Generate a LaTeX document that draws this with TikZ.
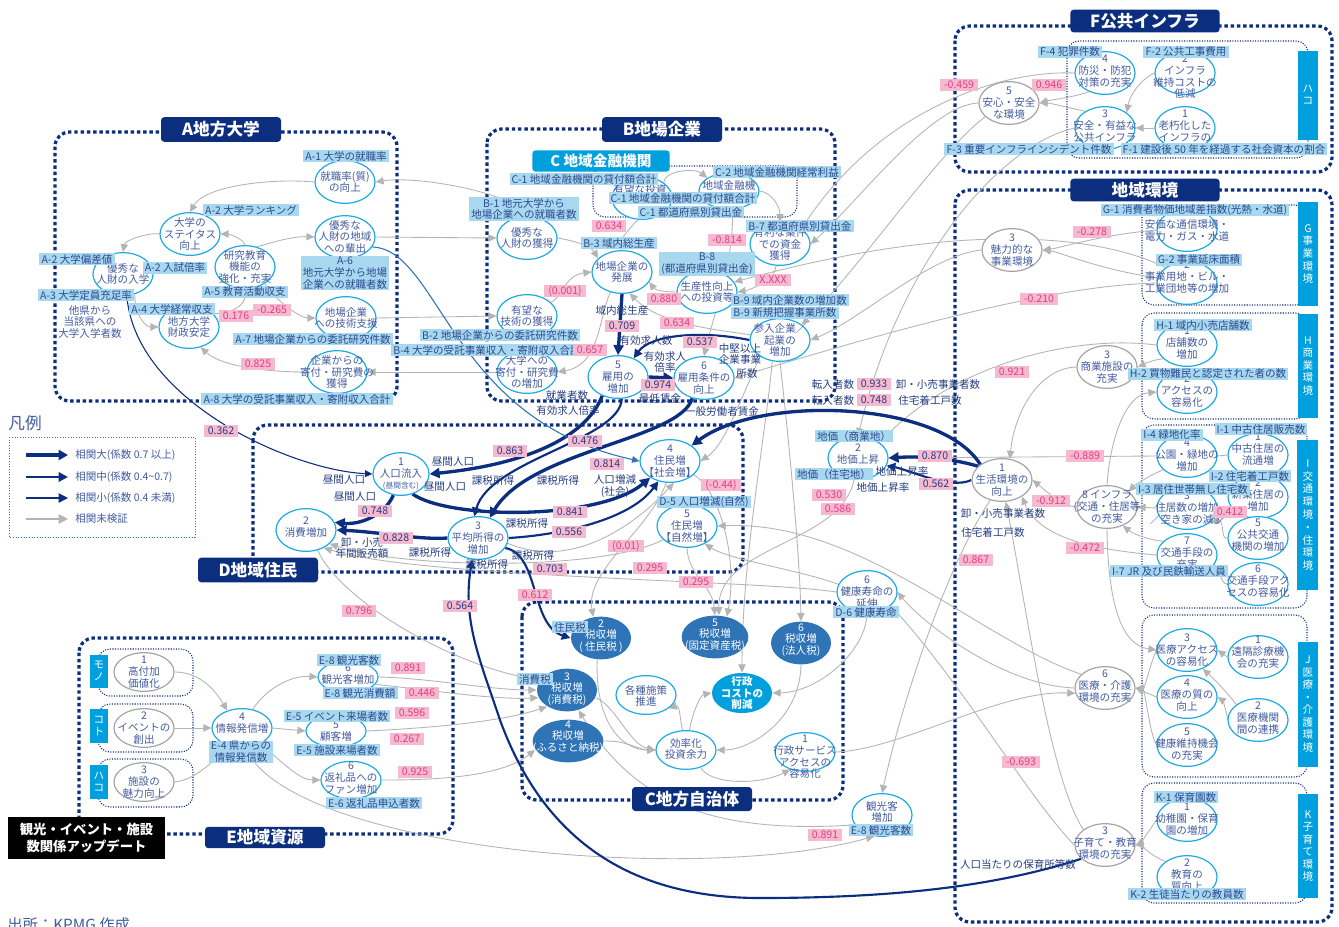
\documentclass[tikz,border=0pt]{standalone}
\usepackage{fontspec}
\setmainfont{Noto Sans CJK JP}
\usetikzlibrary{shapes.geometric,arrows.meta}
\definecolor{navy}{RGB}{12,46,126}
\definecolor{navyT}{RGB}{40,62,128}
\definecolor{cyanT}{RGB}{0,160,222}
\definecolor{lblue}{RGB}{168,215,240}
\definecolor{labtxt}{RGB}{44,74,140}
\definecolor{pinkF}{RGB}{245,185,208}
\definecolor{pinkT}{RGB}{230,62,132}
\definecolor{ecyan}{RGB}{30,170,228}
\definecolor{egray}{RGB}{165,165,165}
\definecolor{etext}{RGB}{66,92,160}
\definecolor{grayL}{RGB}{180,180,180}
\definecolor{bfill}{RGB}{46,116,182}
\definecolor{dtext}{RGB}{36,62,130}
\definecolor{legb}{RGB}{46,117,182}
\pgfdeclarelayer{bgw}
\pgfdeclarelayer{frm}
\pgfdeclarelayer{lns}
\pgfsetlayers{bgw,frm,lns,main}
\newcommand\fs{\fontsize{7.9}{8.8}\selectfont}
\newcommand\MyEN[4][en]{\node[#1] (#2) at (#3) {}; \node[etx] at (#3) {#4};}
\newcommand\MyNE[6]{\node[#1] (#2) at (#3) {}; \node[#4] at (#5) {#6};}
\tikzset{
 en/.style={ellipse, draw=ecyan, line width=0.9pt, fill=white, minimum width=45pt, minimum height=32pt, inner sep=0pt},
 eg/.style={en, draw=egray},
 eb/.style={en, draw=none, fill=bfill},
 ec/.style={en, draw=none, fill=cyanT},
 etx/.style={align=center, text=etext, font=\fs, inner sep=0pt},
 wtx/.style={align=center, text=white, font=\fs, inner sep=0pt},
 lb/.style={fill=lblue, text=labtxt, font=\fs, inner xsep=1.6pt, inner ysep=0.7pt, align=center},
 pk/.style={fill=pinkF, text=pinkT, font=\fs, inner xsep=3pt, inner ysep=0.5pt, minimum height=9.5pt},
 pkn/.style={pk, text=navyT},
 dl/.style={text=dtext, font=\fs, inner sep=0pt, align=center},
 ttl/.style={fill=navy, text=white, font=\fontsize{12.5}{14}\selectfont\bfseries, rounded corners=2.5pt, minimum width=90pt, minimum height=18.5pt, inner sep=0pt},
 frame/.style={draw=navy, line width=2.4pt, dash pattern=on 2.6pt off 2.1pt, rounded corners=11pt},
 sub/.style={draw=navy, line width=0.8pt, dash pattern=on 0.8pt off 1.1pt, rounded corners=9pt},
 ga/.style={draw=grayL, line width=0.65pt, -{Triangle[length=6pt,width=5.5pt]}},
 gln/.style={draw=grayL, line width=0.65pt},
 big/.style={draw=navy, line width=2.5pt, -{Triangle[length=7.5pt,width=7.5pt]}},
 mid/.style={draw=navy, line width=1.6pt, -{Triangle[length=6.5pt,width=6.5pt]}},
 sm/.style={draw=navy, line width=0.8pt, -{Triangle[length=5.5pt,width=5pt]}},
}
\begin{document}
\begin{tikzpicture}[x=0.75pt,y=-0.75pt]
\useasboundingbox (0,0) rectangle (1339,926);
\begin{pgfonlayer}{bgw}
\fill[white] (0,0) rectangle (1339,926);
\end{pgfonlayer}

% ---------------- frames
\begin{pgfonlayer}{frm}
\draw[frame] (55,132) rectangle (397,401);
\draw[frame] (487,129) rectangle (835,401);
\draw[frame] (253,425) rectangle (743,572);
\draw[frame] (522,602) rectangle (843,800);
\draw[frame] (79,638) rectangle (453,834);
\draw[frame] (955,26) rectangle (1332,172);
\draw[frame] (955,190) rectangle (1332,922);
\draw[sub] (593,166) rectangle (797,217);
\draw[sub] (1067,41) rectangle (1308,158);
\draw[sub] (1142,205) rectangle (1307,305);
\draw[sub] (1142,313) rectangle (1307,419);
\draw[sub] (1142,425) rectangle (1307,608);
\draw[sub] (1142,615) rectangle (1307,777);
\draw[sub] (1142,783) rectangle (1307,903);
\draw[sub] (98,649) rectangle (193,696);
\draw[sub] (98,704) rectangle (193,752);
\draw[sub] (98,759) rectangle (193,807);
\draw[draw=legb, line width=0.7pt, dash pattern=on 0.8pt off 1.2pt] (9,437) rectangle (195,537);
\end{pgfonlayer}

% ---------------- A nodes
\MyEN{aJob}{345,182}{就職率(質)\\の向上}
\MyEN{aStat}{190,234}{大学の\\ステイタス\\向上}
\MyEN{aOut}{345,237}{優秀な\\人財の地域\\への輩出}
\MyEN{aRes}{245,267}{研究教育\\機能の\\強化・充実}
\MyEN{aEnt}{123,274}{優秀な\\人財の入学}
\MyEN{aFin}{189,327}{地方大学\\財政安定}
\MyEN{aTech}{346,318}{地場企業\\への技術支援}
\MyEN{aDon}{337,372}{企業からの\\寄付・研究費の\\獲得}
\node[etx, text=etext] at (90,322) {他県から\\当該県への\\大学入学者数};
% ---------------- B nodes
\MyEN{bTal}{527,238}{優秀な\\人財の獲得}
\MyEN{bDev}{622,272}{地場企業の\\発展}
\MyEN{bTec}{527,316}{有望な\\技術の獲得}
\MyEN{bDon}{527,372}{大学への\\寄付・研究費\\の増加}
\MyEN{bEmp}{618,377}{5\\雇用の\\増加}
\MyEN{bCond}{704,378}{6\\雇用条件の\\向上}
\MyEN{bProd}{707,292}{生産性向上\\への投資等}
\MyEN{bDeal}{780,244}{有利な案件\\での資金\\獲得}
\MyEN{bNew}{780,340}{参入企業／\\起業の\\増加}
\MyNE{en}{cInv}{642,198}{etx}{640,190}{有望な投資}
\MyNE{en,minimum height=27pt}{cFin}{729,191}{etx}{729,185}{地域金融機}
% ---------------- D nodes
\MyEN[en,minimum width=42pt]{d1}{401,474}{1\\人口流入\\{\fontsize{5.8}{6.6}\selectfont(昼間含む)}}
\MyNE{en}{d2}{306,530}{etx}{306,527}{2\\消費増加}
\MyEN{d3}{478,538}{3\\平均所得の\\増加}
\MyEN{d4}{670,461}{4\\住民増\\【社会増】}
\MyEN{d5}{687,526}{5\\住民増\\【自然増】}
\MyEN{d6}{867,592}{6\\健康寿命の\\延伸}
\MyNE{en}{dLand}{858,458}{etx}{858,454}{2\\地価上昇}
% ---------------- right nodes
\MyEN[eg]{live}{1002,480}{1\\生活環境の\\向上}
\MyEN[eg]{infra}{1107,507}{8 インフラ\\(交通・住居等\\の充実}
\MyEN[eg]{shop}{1107,367}{3\\商業施設の\\充実}
\MyEN[eg]{biz}{1012,250}{3\\魅力的な\\事業環境}
\MyEN[eg]{safe}{1009,103}{5\\安心・安全\\な環境}
\MyNE{en}{f4}{1105,73}{etx}{1105,71}{4\\防災・防犯\\対策の充実}
\MyNE{en}{f2}{1185,73}{etx}{1185,77}{2\\インフラ\\維持コストの\\低減}
\MyNE{en}{f3}{1105,128}{etx}{1105,126}{3\\安全・有益な\\公共インフラ}
\MyNE{en}{f1}{1185,128}{etx}{1185,126}{1\\老朽化した\\インフラの}
\MyNE{en}{g1}{1187,230}{etx}{1187,225}{1\\安価な通信環境・\\電力・ガス・水道}
\MyNE{en}{g2}{1187,283}{etx}{1187,277}{2\\事業用地・ビル・\\工業団地等の増加}
\MyNE{en}{h1}{1187,345}{etx}{1187,343}{1\\店舗数の\\増加}
\MyNE{en}{h2}{1187,392}{etx}{1187,391}{2\\アクセスの\\容易化}
\MyNE{en}{i4}{1187,456}{etx}{1187,455}{4\\公園・緑地の\\増加}
\MyNE{en}{i1}{1258,455}{etx}{1258,449}{1\\中古住居の\\流通増}
\MyNE{en}{i2}{1258,497}{etx}{1258,495}{2\\新築住居の\\増加}
\MyNE{en}{i3}{1187,508}{etx}{1187,508}{3\\住居数の増加\\／空き家の減少}
\MyNE{en}{i5}{1258,538}{etx}{1258,535}{5\\公共交通\\機関の増加}
\MyNE{en}{i7}{1187,555}{etx}{1187,553}{7\\交通手段の\\充実}
\MyNE{en}{i6}{1258,584}{etx}{1258,581}{6\\交通手段アク\\セスの容易化}
\MyEN{j3}{1187,650}{3\\医療アクセス\\の容易化}
\MyNE{en}{j1}{1258,657}{etx}{1258,652}{1\\遠隔診療機\\会の充実}
\MyNE{en}{j4}{1187,697}{etx}{1187,695}{4\\医療の質の\\向上}
\MyNE{en}{j2}{1258,720}{etx}{1258,718}{2\\医療機関\\間の連携}
\MyNE{en}{j5}{1187,745}{etx}{1187,744}{5\\健康維持機会\\の充実}
\MyNE{eg}{med}{1105,688}{etx}{1105,686}{6\\医療・介護\\環境の充実}
\MyNE{en}{k1}{1187,820}{etx}{1187,819}{1\\幼稚園・保育\\園の増加}
\MyNE{en}{k2}{1187,877}{etx}{1187,875}{2\\教育の\\質向上}
\MyNE{eg}{kid}{1105,845}{etx}{1105,843}{3\\子育て・教育\\環境の充実}
% ---------------- C local government
\MyNE{eb}{t2}{601,638}{wtx}{601,636}{2\\税収増\\(\ 住民税\ )}
\MyNE{eb,minimum width=50pt}{t5}{715,637}{wtx}{715,635}{5\\税収増\\(固定資産税)}
\MyNE{eb}{t6}{801,643}{wtx}{801,640}{6\\税収増\\(法人税)}
\MyNE{eb}{t3}{567,690}{wtx}{567,689}{3\\税収増\\(消費税)}
\MyNE{eb,minimum width=53pt}{t4}{568,741}{wtx}{568,737}{4\\税収増\\(ふるさと納税)}
\MyNE{en,minimum height=29pt}{pol}{646,695}{etx}{646,696}{各種施策\\推進}
\MyNE{ec,minimum height=30pt}{cost}{742,693}{wtx,font=\fs\bfseries}{742,693}{行政\\コストの\\削減}
\MyNE{en,minimum height=29pt}{eff}{686,750}{etx}{686,749}{効率化\\投資余力}
\MyNE{en,minimum height=29pt}{svc}{805,752}{etx}{805,757}{1\\行政サービス\\アクセスの\\容易化}
\MyNE{en}{tour}{882,815}{etx}{882,812}{観光客\\増加}
% ---------------- E nodes
\MyEN[eg,minimum height=29pt]{e1}{144,672}{1\\高付加\\価値化}
\MyEN[eg,minimum height=29pt]{e2}{144,728}{2\\イベントの\\創出}
\MyEN[eg,minimum height=29pt]{e3}{144,782}{3\\施設の\\魅力向上}
\MyNE{en,minimum height=29pt}{e4}{242,728}{etx}{242,723}{4\\情報発信増}
\MyNE{en,minimum height=24pt}{e8}{348,677}{etx}{348,674}{6\\観光客増加}
\MyNE{en,minimum height=24pt}{e5}{336,731}{etx}{336,731}{5\\顧客増}
\MyNE{en,minimum height=28pt}{e6}{351,780}{etx}{351,778}{6\\返礼品への\\ファン増加}

% ---------------- connectors
\begin{pgfonlayer}{lns}
% A
\draw[ga] (aJob.west) .. controls (270,178) and (205,186) .. (aStat.north);
\draw[ga] (aRes.north) .. controls (243,238) and (228,234) .. (aStat.east);
\draw[ga] (aStat.west) .. controls (150,232) and (125,240) .. (aEnt.north);
\draw[ga] (aRes.60) .. controls (265,245) and (290,236) .. (aOut.west);
\draw[ga] (aEnt.-60) .. controls (135,315) and (145,327) .. (aFin.west);
\draw[ga] (aFin.30) .. controls (230,315) and (245,305) .. (aRes.south);
\draw[ga] (aRes.-40) .. controls (275,300) and (300,318) .. (aTech.west);
\draw[ga] (aDon.west) .. controls (260,372) and (220,365) .. (aFin.-60);
\draw[ga] (bTal.north) .. controls (520,195) and (420,175) .. (aJob.east);
\draw[ga] (aOut.east) -- (bTal.west);
\draw[ga] (aTech.east) -- (bTec.west);
\draw[ga] (bDon.west) -- (aDon.east);
% B
\draw[ga] (bTal.east) .. controls (570,240) and (590,245) .. (bDev.150);
\draw[ga] (bTec.30) .. controls (560,300) and (565,275) .. (bDev.west);
\draw[ga] (bDev.-120) .. controls (598,320) and (600,365) .. (bDon.east);
\draw[ga] (cInv.-100) .. controls (632,225) and (620,240) .. (bDev.north);
\draw[ga] (bProd.west) .. controls (665,292) and (655,290) .. (bDev.-20);
\draw[ga] (bNew.170) .. controls (720,330) and (660,325) .. (bDev.-70);
\draw[ga] (bDeal.-100) .. controls (775,280) and (750,290) .. (bProd.east);
\draw[ga] (cFin.east) .. controls (770,192) and (780,205) .. (bDeal.north);
\draw[ga] (cInv.north east) .. controls (665,170) and (695,168) .. (cFin.north west);
\draw[ga] (cFin.-80) .. controls (735,260) and (712,320) .. (bCond.north);
% right to B
\draw[ga] (f4.west) .. controls (1000,70) and (880,110) .. (bDeal.north east);
\draw[ga] (safe.west) .. controls (930,105) and (860,200) .. (bDeal.east);
\draw[ga] (safe.-150) .. controls (940,150) and (850,280) .. (bNew.north east);
\draw[ga] (biz.west) .. controls (930,255) and (860,320) .. (bNew.east);
\draw[ga] (g2.north west) .. controls (1110,240) and (980,215) .. (bProd.20);
\draw[ga] (g2.west) .. controls (1090,285) and (990,300) .. (bCond.east);
\draw[ga] (g1.west) .. controls (1100,235) and (1060,248) .. (biz.east);
\draw[ga] (g2.170) .. controls (1100,270) and (1060,252) .. (biz.east);
\draw[ga] (f3.west) .. controls (1000,145) and (900,260) .. (dLand.north);
% F
\draw[ga] (f4.-130) .. controls (1070,98) and (1050,100) .. (safe.east);
\draw[ga] (f3.140) .. controls (1070,108) and (1050,103) .. (safe.east);
\draw[ga] (f2.west) .. controls (1140,80) and (1130,95) .. (f3.north east);
\draw[ga] (f1.west) -- (f3.east);
% right region
\draw[ga] (h1.-150) .. controls (1150,360) and (1140,366) .. (shop.east);
\draw[ga] (shop.west) .. controls (1040,368) and (1015,410) .. (live.70);
\draw[ga] (h1.west) .. controls (1080,335) and (960,360) .. (dLand.north east);
\draw[ga] (infra.west) .. controls (1060,505) and (1045,490) .. (live.east);
\draw[ga] (i4.west) -- (dLand.east);
\draw[ga] (i4.-150) .. controls (1150,475) and (1135,485) .. (infra.north east);
\draw[gln] (i1.west) -- (i4.east);
\draw[ga] (i3.west) -- (infra.east);
\draw[ga] (i5.west) .. controls (1220,540) and (1225,520) .. (i3.-30);
\draw[ga] (i7.150) .. controls (1150,540) and (1135,535) .. (infra.-50);
\draw[gln] (i6.west) .. controls (1220,585) and (1220,565) .. (i7.-20);
\draw[ga] (i7.west) .. controls (1100,550) and (1040,540) .. (live.-40);
\draw[ga] (infra.north) .. controls (1110,440) and (1125,395) .. (h2.west);
\draw[ga] (infra.south) .. controls (1108,600) and (1120,645) .. (j3.west);
\draw[ga] (j1.west) -- (j3.east);
\draw[ga] (j2.north west) .. controls (1225,690) and (1215,680) .. (j3.-50);
\draw[ga] (j2.west) .. controls (1228,715) and (1222,700) .. (j4.east);
\draw[ga] (j3.west) .. controls (1150,665) and (1145,688) .. (med.east);
\draw[ga] (j4.west) -- (med.east);
\draw[ga] (j5.west) .. controls (1150,735) and (1145,690) .. (med.east);
\draw[ga] (med.west) .. controls (1000,685) and (920,620) .. (d6.east);
\draw[ga] (med.150) .. controls (980,640) and (860,520) .. (d5.east);
\draw[ga] (k1.west) .. controls (1150,830) and (1140,843) .. (kid.east);
\draw[ga] (k2.north west) .. controls (1150,855) and (1140,845) .. (kid.east);
\draw[ga] (kid.north west) .. controls (1050,780) and (1025,600) .. (live.-80);
\draw[gln] (d6.-30) .. controls (960,680) and (1030,800) .. (kid.west);
\draw[ga] (live.-120) .. controls (950,560) and (905,690) .. (tour.north);
\draw[ga] (svc.east) .. controls (900,750) and (1000,690) .. (med.-170);
% C local
\draw[ga] (d4.-100) .. controls (650,530) and (585,570) .. (t2.110);
\draw[ga] (d5.south) .. controls (688,575) and (712,585) .. (t5.north);
\draw[ga] (d4.-30) .. controls (720,490) and (738,560) .. (t5.60);
\draw[ga] (dLand.-100) .. controls (840,545) and (718,545) .. (t5.80);
\draw[ga] (bNew.south) .. controls (790,450) and (800,560) .. (t6.north);
\draw[ga] (bNew.-110) .. controls (765,440) and (742,560) .. (cost.north);
\draw[ga] (bNew.-140) .. controls (740,400) and (725,445) .. (d4.east);
\draw[ga] (t2.-100) .. controls (595,720) and (620,750) .. (eff.west);
\draw[ga] (t3.-15) .. controls (615,705) and (630,745) .. (eff.west);
\draw[ga] (t4.east) .. controls (625,740) and (640,750) .. (eff.west);
\draw[ga] (t6.south) .. controls (800,720) and (750,750) .. (eff.east);
\draw[ga] (eff.100) .. controls (680,720) and (680,705) .. (pol.-30);
\draw[ga] (eff.80) .. controls (692,715) and (700,695) .. (cost.west);
\draw[ga] (eff.-50) .. controls (710,785) and (760,785) .. (svc.-130);
\draw[ga] (d6.south) .. controls (866,650) and (820,692) .. (cost.east);
\draw[ga] (tour.200) .. controls (700,835) and (630,795) .. (t3.-60);
\draw[ga] (e4.-80) .. controls (290,850) and (700,885) .. (tour.-110);
\draw[ga] (d2.-60) .. controls (340,600) and (450,665) .. (t3.160);
\draw[ga] (e8.east) .. controls (430,678) and (490,690) .. (t3.west);
\draw[ga] (e8.-15) .. controls (430,690) and (495,700) .. (t3.-165);
\draw[ga] (e5.east) .. controls (430,728) and (500,722) .. (t3.-140);
\draw[ga] (e6.east) .. controls (430,780) and (500,778) .. (t4.-165);
% D gray
\draw[ga] (d5.-150) .. controls (600,572) and (400,568) .. (d2.-30);
\draw[ga] (d6.west) .. controls (760,580) and (420,578) .. (d2.-45);
\draw[ga] (d6.165) .. controls (800,570) and (730,560) .. (d5.-45);
\draw[ga] (d3.-10) .. controls (575,572) and (640,520) .. (d4.-80);
% E
\draw[ga] (e1.east) .. controls (200,672) and (215,690) .. (e4.130);
\draw[ga] (e2.east) -- (e4.west);
\draw[ga] (e3.east) .. controls (195,780) and (215,760) .. (e4.-130);
\draw[ga] (e4.60) .. controls (265,690) and (290,675) .. (e8.west);
\draw[ga] (e4.east) -- (e5.west);
\draw[ga] (e4.-40) .. controls (285,765) and (300,780) .. (e6.west);
% navy connectors
\draw[big] (bDev.south) -- (bEmp.north);
\draw[mid] (bNew.west) .. controls (700,330) and (650,335) .. (bEmp.50);
\draw[big] (bEmp.east) -- (bCond.west);
\draw[big] (bEmp.-130) .. controls (585,440) and (520,465) .. (d1.east);
\draw[mid] (bEmp.-80) .. controls (620,440) and (490,460) .. (d3.100);
\draw[big] (bCond.-120) .. controls (680,440) and (530,450) .. (d3.60);
\draw[big] (d1.-60) .. controls (450,520) and (600,520) .. (d4.-140);
\draw[mid] (d3.east) .. controls (560,535) and (630,520) .. (d4.-120);
\draw[big] (d3.west) .. controls (420,540) and (380,532) .. (d2.east);
\draw[big] (d1.-110) .. controls (385,515) and (360,525) .. (d2.15);
\draw[mid] (d3.-20) .. controls (540,555) and (530,625) .. (t2.west);
\draw[mid] (kid.-150) .. controls (1000,885) and (900,898) .. (760,898) .. controls (620,898) and (540,830) .. (500,720) .. controls (480,660) and (462,620) .. (d3.-105);
\draw[big] (live.north west) .. controls (940,400) and (760,395) .. (d4.north east);
\draw[big] (live.150) .. controls (950,458) and (920,456) .. (dLand.east);
\draw[mid] (live.west) .. controls (950,490) and (910,470) .. (dLand.-15);
\draw[sm] (aEnt.-80) .. controls (135,400) and (290,470) .. (d1.west);
\draw[sm, draw=legb] (aOut.-20) .. controls (440,250) and (450,420) .. (d4.west);
\end{pgfonlayer}

% ---------------- labels A
\node[lb] at (346,156) {A-1 大学の就職率};
\node[lb] at (251,210) {A-2 大学ランキング};
\node[lb] at (77,259) {A-2 大学偏差値};
\node[lb] at (175,268) {A-2 入試倍率};
\node[lb] at (86,295) {A-3 大学定員充足率};
\node[lb] at (172,309) {A-4 大学経常収支};
\node[lb] at (245,292) {A-5 教育活動収支};
\node[lb] at (345,273) {A-6\\地元大学から地場\\企業への就職者数};
\node[lb] at (313,339) {A-7 地場企業からの委託研究件数};
\node[lb] at (297,399) {A-8 大学の受託事業収入・寄附収入合計};
\node[pk] at (236,316) {0.176};
\node[pk] at (272,310) {-0.265};
\node[pk] at (258,364) {0.825};
\node[pkn] at (221,431) {0.362};
% labels B / C
\node[lb] at (584,179) {C-1 地域金融機関の貸付額合計};
\node[lb] at (683,198) {C-1 地域金融機関の貸付額合計};
\node[lb] at (691,212) {C-1 都道府県別貸出金};
\node[lb] at (777,172) {C-2 地域金融機関経常利益};
\node[lb] at (800,226) {B-7 都道府県別貸出金};
\node[lb] at (707,264) {B-8\\(都道府県別貸出金)};
\node[lb] at (790,300) {B-9 域内企業数の増加数};
\node[lb] at (785,313) {B-9 新規把握事業所数};
\node[lb] at (524,209) {B-1 地元大学から\\地場企業への就職者数};
\node[lb] at (619,243) {B-3 域内総生産};
\node[lb] at (500,335) {B-2 地場企業からの委託研究件数};
\node[lb] at (487,350) {B-4 大学の受託事業収入・寄附収入合計};
\node[pk] at (609,226) {0.634};
\node[pk] at (565,291) {(0.001)};
\node[pk] at (664,299) {0.880};
\node[pk] at (677,323) {0.634};
\node[pkn] at (622,326) {0.709};
\node[pk] at (727,240) {-0.814};
\node[pk] at (773,280) {X.XXX};
\node[pk] at (590,350) {0.657};
\node[pkn] at (700,342) {0.537};
\node[pkn] at (658,385) {0.974};
\node[pkn] at (874,384) {0.933};
\node[pkn] at (874,400) {0.748};
\node[dl] at (622,310) {域内総生産};
\node[dl] at (646,341) {有効求人数};
\node[dl] at (665,362) {有効求人\\倍率};
\node[dl] at (740,354) {中堅以上\\企業事業};
\node[dl] at (747,373) {所数};
\node[dl] at (567,395) {就業者数};
\node[dl] at (568,411) {有効求人倍率};
\node[dl] at (660,398) {最低賃金};
\node[dl] at (722,412) {一般労働者賃金};
\node[dl] at (833,384) {転入者数};
\node[dl] at (833,400) {転入者数};
\node[dl] at (938,384) {卸・小売事業者数};
\node[dl] at (930,400) {住宅着工戸数};
% labels D
\node[dl] at (453,462) {昼間人口};
\node[dl] at (445,487) {昼間人口};
\node[dl] at (344,480) {昼間人口};
\node[dl] at (355,497) {昼間人口};
\node[dl] at (493,480) {課税所得};
\node[dl] at (558,480) {課税所得};
\node[dl] at (615,486) {人口増減\\(社会)};
\node[dl] at (527,523) {課税所得};
\node[dl] at (362,548) {卸・小売\\年間販売額};
\node[dl] at (430,552) {課税所得};
\node[dl] at (487,564) {課税所得};
\node[dl] at (533,555) {課税所得};
\node[dl] at (902,472) {地価上昇率};
\node[dl] at (883,488) {地価上昇率};
\node[lb] at (854,436) {地価（商業地）};
\node[lb] at (834,474) {地価（住宅地）};
\node[lb] at (704,502) {D-5 人口増減(自然)};
\node[lb] at (866,612) {D-6 健康寿命};
\node[pkn] at (510,451) {0.863};
\node[pkn] at (585,441) {0.476};
\node[pkn] at (607,464) {0.814};
\node[pkn] at (375,511) {0.748};
\node[pkn] at (570,512) {0.841};
\node[pkn] at (396,538) {0.828};
\node[pkn] at (569,532) {0.556};
\node[pk] at (626,546) {(0.01)};
\node[pkn] at (550,569) {0.703};
\node[pk] at (650,568) {0.295};
\node[pk] at (535,595) {0.612};
\node[pkn] at (460,606) {0.564};
\node[pk] at (359,611) {0.796};
\node[pk] at (696,582) {0.295};
\node[pk] at (721,485) {(-0.44)};
\node[pk] at (829,495) {0.530};
\node[pk] at (838,509) {0.586};
\node[pkn] at (935,456) {0.870};
\node[pkn] at (936,484) {0.562};
% labels right
\node[lb] at (1070,52) {F-4 犯罪件数};
\node[lb] at (1186,52) {F-2 公共工事費用};
\node[lb] at (1029,149) {F-3 重要インフラインシデント件数};
\node[lb] at (1224,149) {F-1 建設後 50 年を経過する社会資本の割合};
\node[lb] at (1195,210) {G-1 消費者物価地域差指数(光熱・水道)};
\node[lb] at (1199,260) {G-2 事業延床面積};
\node[lb] at (1203,325) {H-1 域内小売店舗数};
\node[lb] at (1208,374) {H-2 買物難民と認定された者の数};
\node[lb] at (1261,429) {I-1 中古住居販売数};
\node[lb] at (1172,435) {I-4 緑地化率};
\node[lb] at (1250,476) {I-2 住宅着工戸数};
\node[lb] at (1193,489) {I-3 居住世帯無し住宅数};
\node[lb] at (1169,571) {I-7 JR 及び民鉄輸送人員};
\node[lb] at (1186,797) {K-1 保育園数};
\node[lb] at (1187,894) {K-2 生徒当たりの教員数};
\node[dl] at (1003,513) {卸・小売事業者数};
\node[dl] at (993,532) {住宅着工戸数};
\node[dl] at (1018,864) {人口当たりの保育所等数};
\node[pk] at (959,85) {-0.459};
\node[pk] at (1049,85) {0.946};
\node[pk] at (1092,232) {-0.278};
\node[pk] at (1039,299) {-0.210};
\node[pk] at (1012,372) {0.921};
\node[pk] at (1085,456) {-0.889};
\node[pk] at (1051,501) {-0.912};
\node[pk] at (1230,512) {0.412};
\node[pk] at (1085,548) {-0.472};
\node[pk] at (976,560) {0.867};
\node[pk] at (1021,762) {-0.693};
% side labels
\fill[cyanT] (1298,51) rectangle (1318,140);
\node[wtx] at (1308,95) {ハ\\コ};
\fill[cyanT] (1298,202) rectangle (1318,306);
\node[wtx, font=\fontsize{7.9}{9.4}\selectfont] at (1308,254) {G\\事\\業\\環\\境};
\fill[cyanT] (1298,314) rectangle (1318,418);
\node[wtx, font=\fontsize{7.9}{9.4}\selectfont] at (1308,366) {H\\商\\業\\環\\境};
\fill[cyanT] (1297,440) rectangle (1318,590);
\node[wtx, font=\fontsize{7.9}{9.6}\selectfont] at (1308,515) {I\\交\\通\\環\\境\\・\\住\\環\\境};
\fill[cyanT] (1298,642) rectangle (1318,767);
\node[wtx, font=\fontsize{7.9}{9.4}\selectfont] at (1308,704) {J\\医\\療\\・\\介\\護\\環\\境};
\fill[cyanT] (1298,794) rectangle (1318,898);
\node[wtx, font=\fontsize{7.9}{9.4}\selectfont] at (1308,846) {K\\子\\育\\て\\環\\境};
\fill[cyanT] (90,655) rectangle (108,688);
\node[wtx] at (99,671) {モ\\ノ};
\fill[cyanT] (90,709) rectangle (108,743);
\node[wtx] at (99,726) {コ\\ト};
\fill[cyanT] (90,765) rectangle (108,799);
\node[wtx] at (99,782) {ハ\\コ};
% labels C / E
\node[lb] at (570,627) {住民税};
\node[lb] at (535,679) {消費税};
\node[lb] at (881,830) {E-8 観光客数};
\node[pk] at (825,835) {0.891};
\node[lb] at (241,752) {E-4 県からの\\情報発信数};
\node[lb] at (349,660) {E-8 観光客数};
\node[lb] at (360,693) {E-8 観光消費額};
\node[lb] at (337,716) {E-5 イベント来場者数};
\node[lb] at (337,750) {E-5 施設来場者数};
\node[lb] at (374,803) {E-6 返礼品申込者数};
\node[pk] at (408,668) {0.891};
\node[pk] at (422,693) {0.446};
\node[pk] at (412,713) {0.596};
\node[pk] at (407,739) {0.267};
\node[pk] at (415,772) {0.925};
% legend
\node[text=etext, font=\fontsize{12.5}{14}\selectfont, inner sep=0pt] at (25,423) {凡例};
\draw[draw=navy, line width=2.5pt, -{Triangle[length=7pt,width=7.5pt]}] (26,455) -- (68,455);
\draw[draw=navy, line width=1.6pt, -{Triangle[length=7pt,width=7pt]}] (26,477) -- (68,477);
\draw[draw=navy, line width=0.8pt, -{Triangle[length=7pt,width=7pt]}] (26,498) -- (68,498);
\draw[draw=grayL, line width=0.8pt, -{Triangle[length=7pt,width=7pt]}] (26,519) -- (68,519);
\node[etx, anchor=west] at (75,455) {相関大(係数 0.7 以上)};
\node[etx, anchor=west] at (75,477) {相関中(係数 0.4\textasciitilde0.7)};
\node[etx, anchor=west] at (75,498) {相関小(係数 0.4 未満)};
\node[etx, anchor=west] at (75,519) {相関未検証};
% titles
\node[ttl] at (221,129.5) {A地方大学};
\node[ttl] at (662,129.5) {B地場企業};
\node[ttl, fill=cyanT, minimum width=103pt, minimum height=16pt, font=\fontsize{11}{13}\selectfont\bfseries] at (601,161) {C\ 地域金融機関};
\node[ttl] at (258,570) {D地域住民};
\node[ttl, minimum height=18pt] at (692,799) {C地方自治体};
\node[ttl, minimum height=16pt] at (265,837.5) {E地域資源};
\node[ttl, minimum width=112pt, minimum height=17pt] at (1145,21) {F公共インフラ};
\node[ttl, minimum width=112pt, minimum height=17pt] at (1145,190) {地域環境};
\node[fill=black, text=white, font=\fontsize{10}{12.5}\selectfont\bfseries, align=center, minimum width=118pt, minimum height=31.5pt, inner sep=0pt] at (86.5,838) {観光・イベント・施設\\数関係アップデート};
\node[anchor=north west, text=etext, font=\fontsize{11.5}{13}\selectfont, inner sep=0pt] at (7,917) {出所：KPMG 作成};
\end{tikzpicture}
\end{document}
